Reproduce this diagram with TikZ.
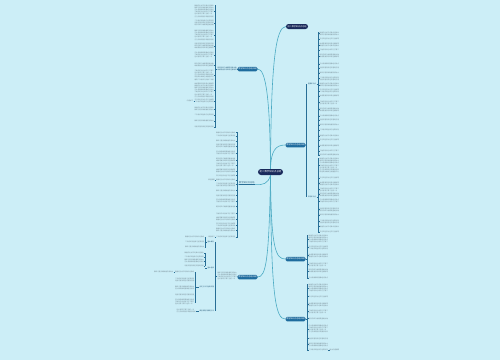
\documentclass[tikz,border=0pt]{standalone}
\usepackage{fontspec}
\newfontfamily\cjk{Noto Sans CJK SC}
\XeTeXlinebreaklocale "zh"
\definecolor{bg}{RGB}{204,238,247}
\definecolor{navy}{RGB}{26,42,92}
\definecolor{nblue}{RGB}{30,108,158}
\definecolor{conn}{RGB}{75,170,195}
\definecolor{brkc}{RGB}{40,110,150}
\definecolor{leaftxt}{RGB}{115,135,145}
\definecolor{labtxt}{RGB}{40,90,120}
\newcount\lnc
\newcommand\lnt[1]{\ifcase#1 一次函数的图像是一条直线\or 平行四边形对边平行且相等\or 二次根式的性质与运算法则\or 勾股定理及其逆定理的应用\or 矩形的四个角都是直角对角\or 线相等菱形的四条边都相等\or 数据的分析平均数中位数众\or 数和方差反映数据的波动大\or 正比例函数的图像经过原点\or 三角形的中位线平行于第三\or 边并且等于第三边的一半\or 正方形具有矩形和菱形的所\or 有性质对角线互相垂直平分\or 最简二次根式与同类二次根\or 式的加减乘除混合运算方法\or 一次函数与方程不等式关系\else 一次函数的图像是一条直线\fi}
\newcommand\mk[2]{\def\acc{}\lnc=0
 \loop\ifnum\lnc<#1
   \advance\lnc by 1
   \edef\acc{\unexpanded\expandafter{\acc}\noexpand\lnt{\the\numexpr\lnc+#2\relax}\ifnum\lnc<#1 \noexpand\\\fi}%
 \repeat
 \acc}
\tikzset{
  leaf/.style={font=\cjk\fontsize{1.6}{2.2}\selectfont, text=leaftxt, inner sep=0pt, align=left},
  sublab/.style={font=\cjk\fontsize{1.6}{2.2}\selectfont, text=labtxt, inner sep=0.3pt, align=left},
  cnode/.style={fill=navy, text=white, rounded corners=3pt, minimum width=25pt, minimum height=6pt, inner sep=0pt, font=\cjk\fontsize{2.4}{3}\selectfont},
  tnode/.style={fill=navy, text=white, rounded corners=2.5pt, minimum width=22pt, minimum height=5pt, inner sep=0pt, font=\cjk\fontsize{2.1}{3}\selectfont},
  bnode/.style={fill=nblue, text=white, rounded corners=1.5pt, minimum width=20pt, minimum height=4.5pt, inner sep=0pt, font=\cjk\fontsize{2}{3}\selectfont},
  lnode/.style={text=labtxt, inner sep=0.4pt, font=\cjk\fontsize{2.2}{3}\selectfont},
  conn/.style={draw=conn, line width=0.6pt},
  brk/.style={draw=brkc, line width=0.4pt},
}
\newcommand\leavesL[4]{% prefix, east x, bracket x, list
 \foreach \yy/\nn [count=\ii] in {#4} {
  \pgfmathtruncatemacro\sd{mod(\ii*5,9)}
  \node[leaf,anchor=east] (#1\ii) at (#2,\yy) {\mk{\nn}{\sd}};
  \draw[brk] (#1\ii.east) -- (#3,\yy);
 }}
\newcommand\leavesR[4]{% prefix, west x, bracket x, list
 \foreach \yy/\nn [count=\ii] in {#4} {
  \pgfmathtruncatemacro\sd{mod(\ii*4+1,9)}
  \node[leaf,anchor=west] (#1\ii) at (#2,\yy) {\mk{\nn}{\sd}};
  \draw[brk] (#1\ii.west) -- (#3,\yy);
 }}
\begin{document}
\begin{tikzpicture}[x=1pt,y=-1pt]
\fill[bg] (0,0) rectangle (500,360);
% main nodes
\node[cnode] (c) at (270.5,172) {初二数学知识点总结};
\node[tnode] (t) at (297,26.5) {初二数学知识点总结};
\node[bnode] (n2) at (247.5,69) {数学知识点总结归纳};
\node[bnode] (n3) at (295.5,145) {数学知识点总结归纳};
\node[lnode,anchor=west] (l4) at (238.5,183) {数学知识点总结};
\node[bnode] (n5) at (247.5,277) {数学知识点总结归纳};
\node[bnode] (n6) at (295.5,259) {数学知识点总结归纳};
\node[bnode] (n7) at (295.5,319) {数学知识点总结归纳};
% trunk curves
\draw[conn] (c.north) .. controls (271,60) and (276,27) .. (t.west);
\draw[conn] (c.north) .. controls (270,100) and (266,69) .. (n2.east);
\draw[conn] (c.north) .. controls (271,150) and (276,145) .. (n3.west);
\draw[conn] (c.south) .. controls (268,184) and (263,185) .. (l4.south east);
\draw[conn] (c.south) .. controls (269,260) and (266,277) .. (n5.east);
\draw[conn] (c.south) .. controls (271,250) and (276,259) .. (n6.west);
\draw[conn] (c.south) .. controls (271,300) and (276,319) .. (n7.west);
% branch 2
\node[sublab,anchor=west] (l2) at (217,69) {\mk{2}{3}};
\draw[brk] (l2.east) -- (n2.west);
\draw[brk] (215,5) -- (215,128);
\draw[brk] (l2.west) -- (215,69);
\leavesL{a}{214}{215}{11/6,23/3,35/5,46/3,55/3,65/2,75/5,90/7,101/2,109/2,115/1,121/1,127/1}
\node[leaf,anchor=east] (e2) at (193.5,101) {内容如下};
\draw[brk] (e2.east) -- (a9.west);
% branch 3
\draw[brk] (n3.east) -- (306.5,145);
\draw[brk] (306.5,84) -- (306.5,197);
\node[sublab,anchor=west] (lA) at (307.5,84) {重要知识点};
\node[sublab,anchor=west] (lB) at (307.5,197) {常考知识点};
\draw[brk] (318,32) -- (318,155);
\draw[brk] (318,158) -- (318,233);
\draw[brk] (lA.east) -- (318,84);
\draw[brk] (lB.east) -- (318,197);
\leavesR{b}{319.5}{318}{33.5/2,39/1,45/2,50/1,56/2,64/1,68/1,73/1,78.5/2,85/2,91/2,96/1,102.5/2,109.5/2,116/1,120/1,125/1,130/1,136/1,140/1,146/1,151/1,155/1}
\leavesR{d}{319.5}{318}{165.5/7,178/1,183.5/2,189.5/2,194.5/2,201/2,209.5/2,215/1,221.5/2,226.5/1,232/1}
% branch 4
\draw[brk] (l4.south west) -- (l4.south east);
\draw[brk] (237,132) -- (237,238);
\draw[brk] (l4.south west) -- (237,184.3);
\leavesL{f}{235.5}{237}{132.5/1,136/1,141/1,146/2,153/2,160/2,165/2,171/2,175.5/1,180/1,184.5/2,190.5/1,195.5/1,201/2,206.5/1,213.5/1,219/2,225/2,230/2,237/1}
\node[leaf,anchor=east] (e4a) at (215,180) {典型例题};
\draw[brk] (e4a.east) -- (f10.west);
\node[leaf,anchor=east] (e4b) at (215,237) {课后练习};
\draw[brk] (e4b.east) -- (f20.west);
% branch 5
\node[leaf,anchor=east] (l5) at (237,276) {\mk{4}{6}};
\draw[brk] (l5.east) -- (n5.west);
\draw[brk] (215,242) -- (215,311);
\draw[brk] (l5.west) -- (215,276);
\node[sublab,anchor=east] (s5a) at (214.5,242) {基本概念};
\node[sublab,anchor=east] (s5b) at (214.5,268) {基本性质};
\node[sublab,anchor=east] (s5c) at (214.5,287) {判定方法与性质定理};
\node[sublab,anchor=east] (s5d) at (214.5,311) {典型例题与解题方法};
\draw[brk] (205.5,237) -- (205.5,247);
\draw[brk] (s5a.west) -- (205.5,242);
\leavesL{g}{204.5}{205.5}{237/1,242/1,247/1}
\draw[brk] (205,253) -- (205,266);
\draw[brk] (s5b.west) -- (205,268) ;
\leavesL{h}{204}{205}{253/1,257/1,261/2,266/1}
\draw[brk] (195.5,272) -- (195.5,302);
\draw[brk] (s5c.west) -- (195.5,287);
\leavesL{k}{194.5}{195.5}{272/1,280/2,288/2,295/1,302/3}
\node[leaf,anchor=east] (e5) at (173.5,272) {\lnt{7}};
\draw[brk] (e5.east) -- (k1.west);
\node[leaf,anchor=east] (m1) at (196,311) {\mk{2}{9}};
\draw[brk] (m1.east) -- (s5d.west);
% branch 6
\draw[brk] (307,235) -- (307,279);
\draw[brk] (n6.east) -- (307,259);
\leavesR{p}{308.5}{307}{239/4,247.5/2,255.5/2,264.5/2,271/2,278/1}
% branch 7
\draw[brk] (307,284) -- (307,350);
\draw[brk] (n7.east) -- (307,319);
\leavesR{q}{308.5}{307}{288/4,296.5/1,304.5/2,311.5/2,318.5/1,329/4,338.5/1,344.5/2,350/1}
\node[leaf,anchor=west] (e7) at (329.5,350) {相关内容推荐};
\draw[brk] (q9.east) -- (e7.west);
\end{tikzpicture}
\end{document}
